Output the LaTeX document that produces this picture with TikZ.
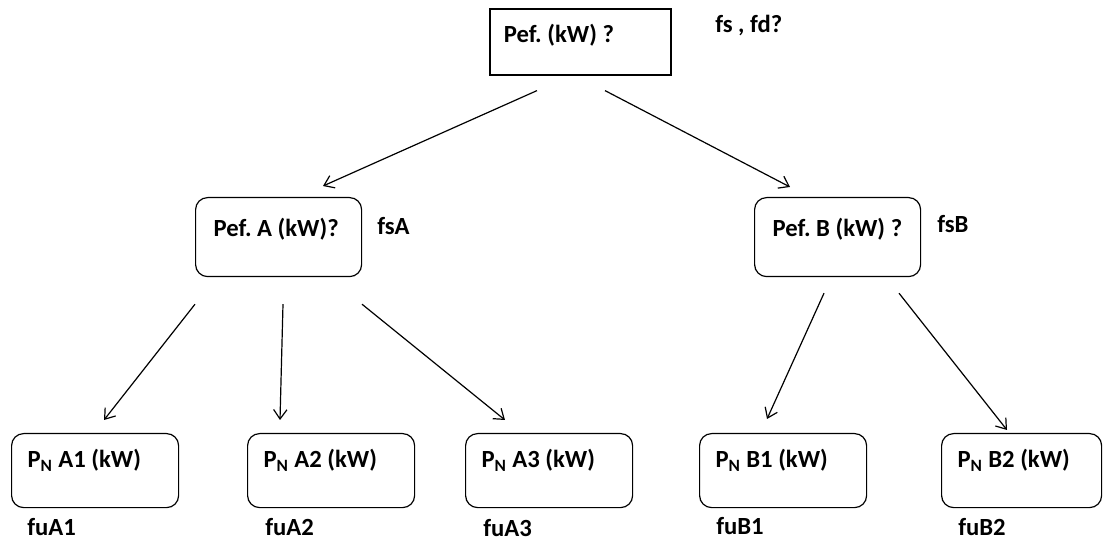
\documentclass[tikz,border=0pt]{standalone}
\usepackage{fontspec}
\setmainfont{Carlito}[WordSpace = 1.0]
\usetikzlibrary{arrows.meta}
\frenchspacing

\begin{document}
\begin{tikzpicture}[x = 0.75pt, y = -0.75pt,
		every node/.style = {font = \fontsize{18.5}{21}\selectfont\bfseries, inner sep = 0pt},
		topbox/.style = {draw, line width = 1.2pt, anchor = north west, inner xsep = 10.5pt,
			text width = 114.75pt, align = flush left, text height = 25.5pt, text depth = 24pt},
		midbox/.style = {draw, line width = 0.9pt, rounded corners = 9pt, anchor = north west,
			inner xsep = 13.5pt, text width = 97.5pt, align = flush left, text height = 29.25pt, text depth = 30pt},
		lowbox/.style = {draw, line width = 0.9pt, rounded corners = 9pt, anchor = north west,
			inner xsep = 12pt, text width = 101.25pt, align = flush left, text height = 25.5pt, text depth = 30pt},
		arr/.style = {-{Straight Barb[length = 7pt, width = 10pt]}, line width = 0.9pt}]
		\useasboundingbox (0, 0) rectangle (1103, 541);
	% top level
		\node[topbox] (top) at (489, 8) {Pef. (kW) ?};
			\node[anchor = base west] (fsfd) at (715, 33) {fs , fd?};
	% second level
		\node[midbox] (A) at (195, 197) {Pef. A (kW)?};
			\node[anchor = base west] (fsA) at (377, 235) {fsA};
		\node[midbox] (B) at (754, 197) {\mbox{Pef. B (kW) ?}};
			\node[anchor = base west] (fsB) at (937, 233) {fsB};
	% loads
		\node[lowbox] (A1) at (11, 433) {P\textsubscript{N} A1 (kW)};
		\node[lowbox] (A2) at (247, 433) {P\textsubscript{N} A2 (kW)};
		\node[lowbox] (A3) at (465, 433) {P\textsubscript{N} A3 (kW)};
		\node[lowbox] (B1) at (699, 433) {P\textsubscript{N} B1 (kW)};
		\node[lowbox, text width = 96pt] (B2) at (941, 433) {P\textsubscript{N} B2 (kW)};
			\node[anchor = base west] (fuA1) at ([shift = {(16, 27)}]A1.south west) {fuA1};
			\node[anchor = base west] (fuA2) at ([shift = {(18, 27)}]A2.south west) {fuA2};
			\node[anchor = base west] (fuA3) at ([shift = {(18, 28)}]A3.south west) {fuA3};
			\node[anchor = base west] (fuB1) at ([shift = {(17, 26)}]B1.south west) {fuB1};
			\node[anchor = base west] (fuB2) at ([shift = {(17, 27)}]B2.south west) {fuB2};
	% arrows
		\draw[arr] ([shift = {(48, 15)}]top.south west) -- ([shift = {(128, -11)}]A.north west);
		\draw[arr] ([shift = {(116, 15)}]top.south west) -- ([shift = {(36, -10)}]B.north west);
		\draw[arr] ([shift = {(0, 27)}]A.south west) -- ([shift = {(93, -13)}]A1.north west);
		\draw[arr] ([shift = {(88, 27)}]A.south west) -- ([shift = {(33, -13)}]A2.north west);
		\draw[arr] ([shift = {(167, 27)}]A.south west) -- ([shift = {(40, -13)}]A3.north west);
		\draw[arr] ([shift = {(70, 16)}]B.south west) -- ([shift = {(68, -14)}]B1.north west);
		\draw[arr] ([shift = {(145, 16)}]B.south west) -- ([shift = {(66, -3)}]B2.north west);
\end{tikzpicture}
\end{document}
